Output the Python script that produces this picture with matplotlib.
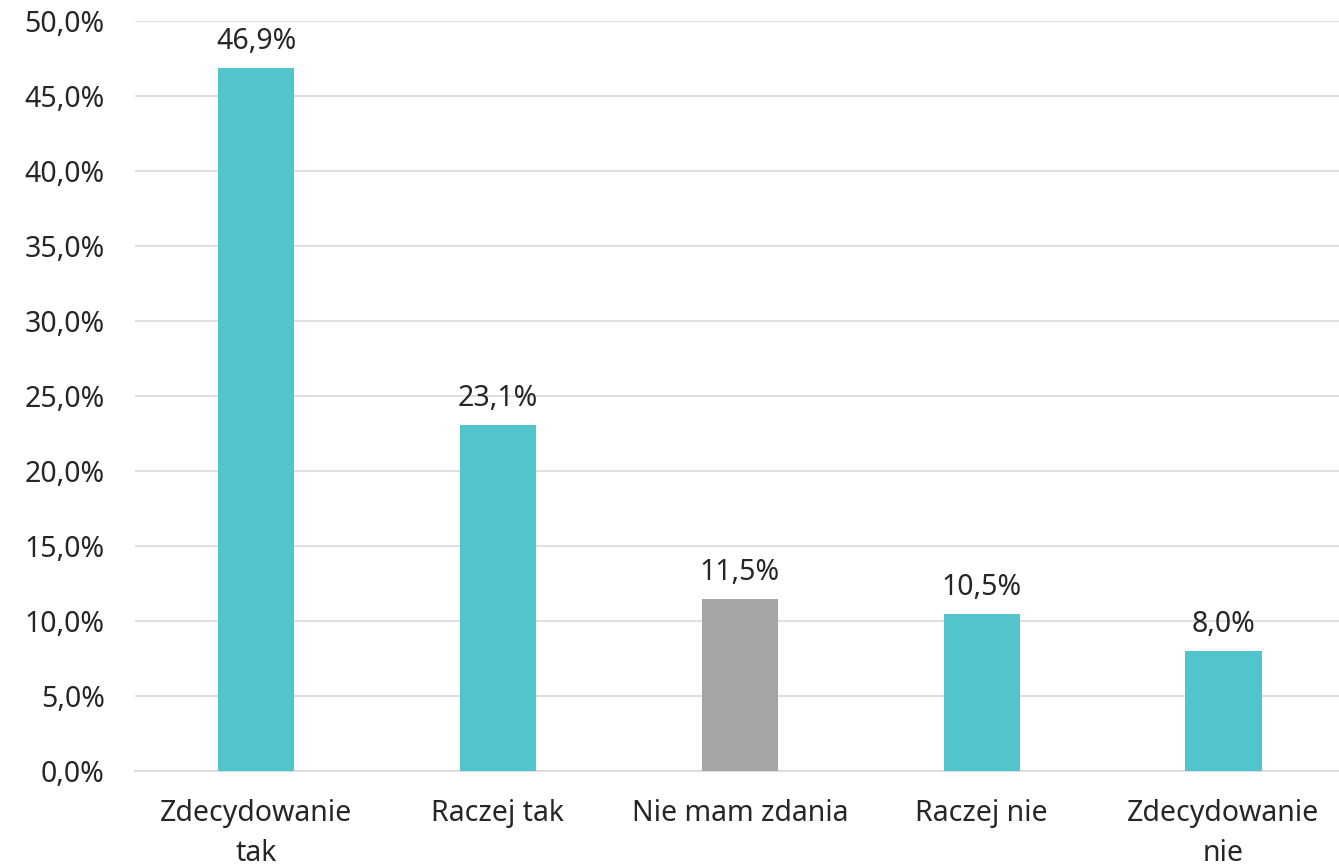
import matplotlib.pyplot as plt
from matplotlib.ticker import FuncFormatter

categories = ["Zdecydowanie\ntak", "Raczej tak", "Nie mam zdania", "Raczej nie", "Zdecydowanie\nnie"]
values = [46.9, 23.1, 11.5, 10.5, 8.0]
bar_colors = ["#52C4CB", "#52C4CB", "#A5A5A5", "#52C4CB", "#52C4CB"]
y_ticks = [0, 5, 10, 15, 20, 25, 30, 35, 40, 45, 50]


def pl_pct(v, _pos=None):
    return f"{v:.1f}%".replace(".", ",")


plt.rcParams["font.family"] = ["Noto Sans", "DejaVu Sans"]
text_color = "#262626"

fig = plt.figure(figsize=(13.39, 8.66), dpi=100)
ax = fig.add_axes([0.101, 0.1097, 0.903, 0.866])

x = range(len(categories))
ax.bar(x, values, width=0.315, color=bar_colors, zorder=3)

for xi, v in zip(x, values):
    ax.text(xi, v + 0.8, pl_pct(v), ha="center", va="bottom", fontsize=20.5, color=text_color)

ax.set_xlim(-0.5, len(categories) - 0.5)
ax.set_ylim(0, 50)
ax.set_yticks(y_ticks)
ax.yaxis.set_major_formatter(FuncFormatter(pl_pct))
ax.set_xticks(list(x))
ax.set_xticklabels(categories, fontsize=20.5, color=text_color, linespacing=1.5)
ax.tick_params(axis="y", labelsize=20.5, colors=text_color, length=0, pad=22)
ax.tick_params(axis="x", length=0, pad=20)

ax.grid(axis="y", color="#D9D9D9", linewidth=1.2, zorder=0)
for side in ["top", "right", "left"]:
    ax.spines[side].set_visible(False)
ax.spines["bottom"].set_color("#D9D9D9")
ax.spines["bottom"].set_linewidth(1.2)

fig.savefig("out.png", dpi=100)
